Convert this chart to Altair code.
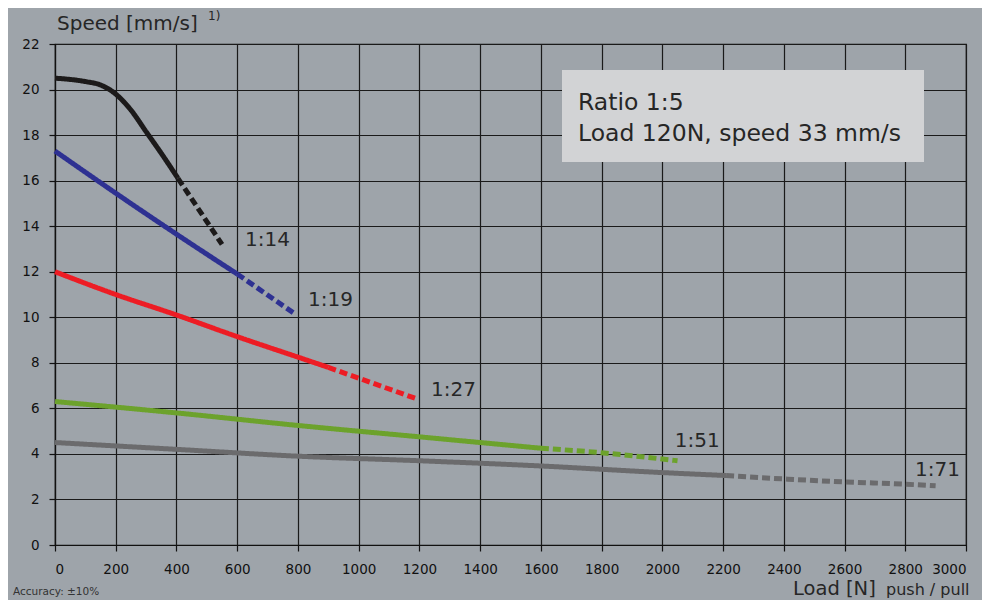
import altair as alt
import pandas as pd

FONT = "DejaVu Sans"

# ---- data ----
ratios = ["1:14", "1:19", "1:27", "1:51", "1:71"]
colors = ["#1c1a1a", "#2e3192", "#ed1c24", "#6ca22c", "#6b6b6d"]

black_solid_load = [0, 100, 150, 200, 250, 300, 350, 405]
black_solid_speed = [20.5, 20.35, 20.2, 19.8, 19.1, 18.15, 17.2, 16.1]
black_dash_load = [405, 550]
black_dash_speed = [16.1, 13.2]

blue_solid_load = [0, 200, 400, 600]
blue_solid_speed = [17.3, 15.45, 13.65, 11.9]
blue_dash_load = [600, 790]
blue_dash_speed = [11.9, 10.15]

red_solid_load = [0, 200, 400, 600, 800, 900]
red_solid_speed = [12.0, 11.0, 10.1, 9.15, 8.25, 7.8]
red_dash_load = [900, 1195]
red_dash_speed = [7.8, 6.4]

green_solid_load = [0, 400, 800, 1200, 1600]
green_solid_speed = [6.3, 5.8, 5.25, 4.75, 4.25]
green_dash_load = [1600, 1800, 2050]
green_dash_speed = [4.25, 4.05, 3.7]

gray_solid_load = [0, 400, 800, 1200, 1600, 2000, 2210]
gray_solid_speed = [4.5, 4.2, 3.9, 3.7, 3.47, 3.18, 3.05]
gray_dash_load = [2210, 2400, 2600, 2800, 2900]
gray_dash_speed = [3.05, 2.9, 2.77, 2.67, 2.6]

label_load = [626, 833, 1238, 2041, 2832]
label_speed = [13.4, 10.76, 6.8, 4.57, 3.29]

x_ticks = list(range(0, 3001, 200))
y_ticks = list(range(0, 23, 2))

box_lines = ["Ratio 1:5", "Load 120N, speed 33 mm/s"]

# ---- build table ----
series = [
    ("1:14", black_solid_load, black_solid_speed, black_dash_load, black_dash_speed),
    ("1:19", blue_solid_load, blue_solid_speed, blue_dash_load, blue_dash_speed),
    ("1:27", red_solid_load, red_solid_speed, red_dash_load, red_dash_speed),
    ("1:51", green_solid_load, green_solid_speed, green_dash_load, green_dash_speed),
    ("1:71", gray_solid_load, gray_solid_speed, gray_dash_load, gray_dash_speed),
]
rows = []
for name, sl, ss, dl, ds in series:
    for l, s in zip(sl, ss):
        rows.append({"ratio": name, "style": "solid", "seg": name + "s", "load": l, "speed": s})
    for l, s in zip(dl, ds):
        rows.append({"ratio": name, "style": "dashed", "seg": name + "d", "load": l, "speed": s})
df = pd.DataFrame(rows)
labels = pd.DataFrame({"load": label_load, "speed": label_speed, "text": ratios})

xs = alt.Scale(domain=[0, 3000], nice=False)
ys = alt.Scale(domain=[0, 22], nice=False)

lines = alt.Chart(df).mark_line(strokeWidth=5, strokeCap="butt", interpolate="monotone").encode(
    x=alt.X("load:Q", scale=xs,
            axis=alt.Axis(values=x_ticks, title=None, grid=True, format="d")),
    y=alt.Y("speed:Q", scale=ys,
            axis=alt.Axis(values=y_ticks, title=None, grid=True, format="d")),
    color=alt.Color("ratio:N", scale=alt.Scale(domain=ratios, range=colors), legend=None),
    strokeDash=alt.StrokeDash("style:N",
                              scale=alt.Scale(domain=["solid", "dashed"], range=[[1, 0], [8, 4]]),
                              legend=None),
    detail="seg:N",
)

label_text = alt.Chart(labels).mark_text(
    font=FONT, fontSize=20, color="#262626", align="left", baseline="middle"
).encode(x=alt.X("load:Q", scale=xs), y=alt.Y("speed:Q", scale=ys), text="text:N")

one = alt.Data(values=[{}])

box = alt.Chart(one).mark_rect(color="#d2d3d5").encode(
    x=alt.value(507), x2=alt.value(869), y=alt.value(26), y2=alt.value(118)
)
box_t1 = alt.Chart(one).mark_text(font=FONT, fontSize=23.5, color="#262626", align="left",
                                  baseline="alphabetic").encode(
    x=alt.value(523), y=alt.value(66), text=alt.value(box_lines[0]))
box_t2 = alt.Chart(one).mark_text(font=FONT, fontSize=23.5, color="#262626", align="left",
                                  baseline="alphabetic").encode(
    x=alt.value(523), y=alt.value(97), text=alt.value(box_lines[1]))

ytitle = alt.Chart(one).mark_text(font=FONT, fontSize=20, color="#262626", align="left",
                                  baseline="alphabetic").encode(
    x=alt.value(2), y=alt.value(-14), text=alt.value("Speed [mm/s]"))
ysup = alt.Chart(one).mark_text(font=FONT, fontSize=12, color="#262626", align="left",
                                baseline="alphabetic").encode(
    x=alt.value(153), y=alt.value(-24), text=alt.value("1)"))
xtitle1 = alt.Chart(one).mark_text(font=FONT, fontSize=19.5, color="#262626", align="left",
                                   baseline="alphabetic").encode(
    x=alt.value(738), y=alt.value(551), text=alt.value("Load [N]"))
xtitle2 = alt.Chart(one).mark_text(font=FONT, fontSize=16, color="#262626", align="left",
                                   baseline="alphabetic").encode(
    x=alt.value(831), y=alt.value(551), text=alt.value("push / pull"))
acc = alt.Chart(one).mark_text(font=FONT, fontSize=10.5, color="#333333", align="left",
                               baseline="alphabetic").encode(
    x=alt.value(-42), y=alt.value(551), text=alt.value("Accuracy: \u00b110%"))

chart = alt.layer(
    lines, label_text, box, box_t1, box_t2, ytitle, ysup, xtitle1, xtitle2, acc
).properties(
    width=911, height=501,
    autosize=alt.AutoSizeParams(type="none"),
    padding={"left": 47, "top": 36, "right": 16, "bottom": 55},
    background="#9ea4aa",
).configure_view(
    stroke="#111111", strokeWidth=1.2, fill="#9ea4aa"
).configure_axis(
    labelFont=FONT, labelFontSize=13.5, labelColor="#111111",
    tickColor="#111111", tickWidth=1.2, domainColor="#111111", domainWidth=1.2,
    gridColor="#1a1a1a", gridOpacity=1, gridWidth=1.2,
).configure_axisX(
    tickSize=6, labelPadding=11,
).configure_axisY(
    tickSize=6, labelPadding=10,
)

chart.save("out.html", embed_options={"renderer": "svg", "actions": False})
